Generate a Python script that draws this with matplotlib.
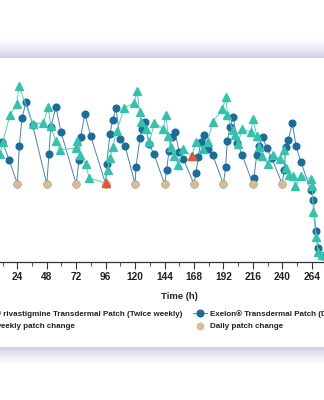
import numpy as np
import matplotlib
matplotlib.use("Agg")
import matplotlib.pyplot as plt
from matplotlib.lines import Line2D

# ---------------- data ----------------
tw_time = [9.9, 12.1, 18.0, 23.5, 25.4, 36.5, 45.2, 49.2, 51.2, 55.3, 58.8, 71.8, 72.9, 75.1,
           80.0, 82.4, 96.0, 97.7, 99.5, 101.7, 105.0, 111.2, 119.1, 121.8, 123.6, 124.8,
           128.6, 131.7, 135.8, 143.0, 144.9, 147.1, 149.0, 152.0, 155.2, 159.3, 166.1,
           169.6, 175.6, 179.2, 183.2, 191.2, 194.1, 195.2, 199.6, 201.4, 203.6, 207.4,
           214.2, 216.4, 219.1, 221.0, 223.8, 228.2, 232.2, 238.1, 241.1, 243.0, 245.7,
           248.5, 250.6, 255.5, 263.5, 264.5, 265.4, 267.5, 269.3, 272.4, 280.0, 290.0]
tw_conc = [5.4, 6.0, 7.35, 7.9, 8.8, 6.9, 6.95, 7.75, 6.8, 6.05, 5.6, 5.7, 6.05, 5.35,
           4.9, 4.2, 3.95, 4.6, 5.2, 5.75, 6.55, 7.7, 7.95, 8.55, 7.5, 7.0,
           6.65, 6.0, 6.95, 6.65, 7.35, 6.3, 5.75, 5.3, 4.85, 5.65, 5.3,
           6.0, 5.65, 6.0, 7.0, 7.65, 8.25, 7.35, 6.6, 6.35, 5.9, 6.65,
           6.5, 7.15, 6.3, 5.75, 5.3, 4.9, 5.35, 5.15, 5.6, 4.7, 4.35,
           4.3, 3.8, 4.3, 4.15, 3.8, 2.5, 1.25, 0.5, 0.35, 0.2, 0.1]

daily_time = [11.9, 17.4, 24.0, 25.6, 27.8, 31.1, 36.5, 48.0, 49.8, 51.2, 55.5, 59.6,
              72.0, 74.3, 75.6, 79.1, 83.8, 96.0, 96.8, 99.5, 101.7, 104.4, 107.7, 111.8,
              120.0, 120.7, 124.0, 125.4, 128.1, 131.3, 135.4, 144.0, 145.7, 147.6, 149.8,
              152.5, 156.0, 159.3, 168.0, 169.6, 171.5, 173.5, 176.4, 179.7, 183.3, 192.0,
              193.8, 195.2, 197.4, 200.0, 203.3, 207.4, 216.0, 216.9, 219.1, 221.0, 224.0,
              227.3, 231.3, 240.0, 241.4, 243.0, 244.9, 248.2, 251.2, 255.2, 263.1, 265.3,
              267.3, 269.5, 272.1, 280.0, 290.0]
daily_conc = [6.0, 5.1, 3.9, 5.8, 7.2, 8.0, 6.85, 3.9, 5.4, 6.75, 7.75, 6.5,
              3.9, 5.1, 6.25, 7.4, 6.3, 3.9, 4.9, 6.4, 7.1, 7.7, 6.15, 5.8,
              3.9, 4.75, 6.2, 6.65, 7.0, 5.9, 5.4, 3.9, 4.6, 5.55, 6.25,
              6.5, 5.5, 5.15, 3.9, 4.45, 5.25, 6.0, 6.35, 5.65, 5.35, 3.9,
              4.75, 6.05, 6.75, 7.25, 5.95, 5.35, 3.9, 4.2, 5.35, 5.8, 6.25,
              5.7, 5.2, 3.9, 4.6, 5.75, 6.1, 6.95, 5.8, 5.0, 3.6, 3.1,
              1.55, 0.7, 0.3, 0.1, 0.05]

daily_change_time = [24, 48, 72, 96, 120, 144, 168, 192, 216, 240]
daily_change_conc = [3.9] * 10
tw_change_time = [96.0, 166.1]
tw_change_conc = [3.95, 5.3]

x_ticks = list(range(0, 289, 24))
x_label = "Time (h)"
labels = ["Rivalo\u00ae rivastigmine Transdermal Patch (Twice weekly)",
          "Twice weekly patch change",
          "Exelon\u00ae Transdermal Patch (Daily)",
          "Daily patch change"]

# ---------------- style ----------------
TEAL_M = "#33c2ae"
TEAL_L = "#5cccbd"
DARK_M = "#1b6c9a"
DARK_L = "#4a84aa"
TAN = "#dcbb8c"
RED = "#e8562b"
FONT = ["Liberation Sans", "DejaVu Sans"]
plt.rcParams["font.family"] = FONT

W, H = 324, 400
fig = plt.figure(figsize=(W / 100, H / 100), dpi=100)

# background with the lavender gradient bands
img = np.ones((H, W, 3))
lav = np.array([208, 206, 228]) / 255.0
for y in range(38, 58):
    t = ((y - 38) / 19.0) ** 1.3
    img[y, :, :] = (1 - t) + t * lav
for y in range(347, 364):
    t = (1 - (y - 347) / 17.0) ** 1.3
    img[y, :, :] = (1 - t) + t * lav
bg = fig.add_axes([0, 0, 1, 1], zorder=0)
bg.imshow(img, aspect="auto", interpolation="nearest", extent=(0, W, H, 0))
bg.set_axis_off()

px = 382.7 / 312.0
ax = fig.add_axes([-12.1 / W, (H - 262) / H, 312 * px / W, 200 / H], zorder=1)
ax.patch.set_alpha(0)

MS_C, MS_T, MS_TAN = 4.8, 5.1, 4.6
ax.plot(daily_time, daily_conc, color=DARK_L, lw=0.7, marker="o", ms=MS_C,
        mfc=DARK_M, mec=DARK_M, zorder=3)
ax.plot(tw_time, tw_conc, color=TEAL_L, lw=0.7, marker="^", ms=MS_T,
        mfc=TEAL_M, mec=TEAL_M, zorder=4)
ax.plot(daily_change_time, daily_change_conc, ls="none", marker="o", ms=MS_TAN,
        mfc=TAN, mec=TAN, zorder=5)
ax.plot(tw_change_time, tw_change_conc, ls="none", marker="^", ms=MS_T,
        mfc=RED, mec=RED, zorder=6)

ax.set_xlim(0, 312)
ax.set_ylim(0, 10)
for s in ("left", "right", "top"):
    ax.spines[s].set_visible(False)
ax.spines["bottom"].set_color("#333333")
ax.spines["bottom"].set_linewidth(0.9)
ax.set_yticks([])
ax.set_xticks(x_ticks)
ax.set_xticks([t + 12 for t in x_ticks], minor=True)
ax.tick_params(axis="x", which="major", length=5, width=0.8, pad=2,
               colors="#333333", labelsize=7.3, labelcolor="#222222")
ax.tick_params(axis="x", which="minor", length=3, width=0.8, colors="#555555")
for lab in ax.get_xticklabels():
    lab.set_fontweight("bold")
ax.set_xlabel(x_label, fontsize=6.8, fontweight="bold", color="#222222", labelpad=7.2)

handles = [
    Line2D([], [], color=TEAL_L, lw=0.7, marker="^", ms=MS_T, mfc=TEAL_M, mec=TEAL_M),
    Line2D([], [], ls="none", marker="^", ms=MS_T, mfc=RED, mec=RED),
    Line2D([], [], color=DARK_L, lw=0.7, marker="o", ms=MS_C, mfc=DARK_M, mec=DARK_M),
    Line2D([], [], ls="none", marker="o", ms=MS_TAN, mfc=TAN, mec=TAN),
]
fs = 5.8
fsp = fs * 100 / 72.0
common = dict(loc="upper left", frameon=False, borderpad=0, borderaxespad=0,
              handlelength=14 / fsp, handletextpad=3 / fsp, labelspacing=0.6,
              prop={"size": fs, "weight": "bold", "family": FONT})
leg1 = fig.legend(handles[:2], labels[:2],
                  bbox_to_anchor=((-29 - 3 - 14) / W, 1 - 310 / H), **common)
leg2 = fig.legend(handles[2:], labels[2:],
                  bbox_to_anchor=(193 / W, 1 - 310 / H), **common)
for lg in (leg1, leg2):
    for t in lg.get_texts():
        t.set_color("#222222")

fig.savefig("out.png", dpi=100)
